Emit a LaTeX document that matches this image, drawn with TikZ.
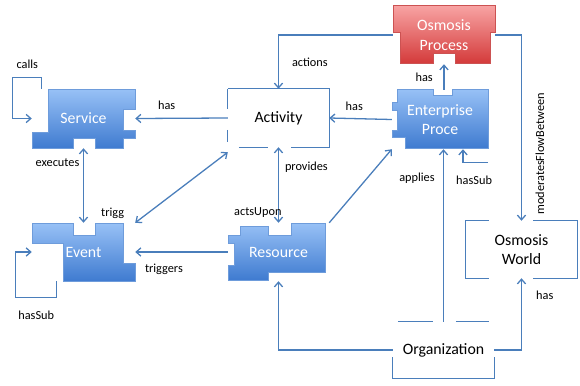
\documentclass[tikz,border=0pt]{standalone}
\usepackage{fontspec}
\setmainfont{Carlito}
\usepackage{tikz}
\usetikzlibrary{arrows.meta, positioning, calc, backgrounds}
\definecolor{linkblue}{HTML}{4A7EBB}
\definecolor{pieceTop}{HTML}{98C1F6}
\definecolor{pieceBot}{HTML}{3F7BD0}
\definecolor{pieceEdge}{HTML}{6E9CDB}
\definecolor{redTop}{HTML}{F8A4A4}
\definecolor{redBot}{HTML}{D43B3B}
\definecolor{redEdge}{HTML}{CC5252}

\begin{document}
\begin{tikzpicture}[x=0.03cm, y=-0.03cm,
    box/.style={inner sep=0pt, align=center, font=\fontsize{13.5}{16.5}\selectfont},
    piece/.style={box, text=white},
    bluepiece/.style={top color=pieceTop, bottom color=pieceBot, draw=pieceEdge, line width=0.4pt},
    redpiece/.style={top color=redTop, bottom color=redBot, draw=redEdge, line width=0.4pt},
    frame/.style={draw=linkblue, line width=1.1pt},
    link/.style={draw=linkblue, line width=1.1pt, -{Straight Barb[length=4pt, width=7pt]}},
    twoway/.style={link, {Straight Barb[length=4pt, width=7pt]}-{Straight Barb[length=4pt, width=7pt]}},
    lbl/.style={font=\fontsize{10.5}{12}\selectfont, text=black, inner sep=2pt}]
\useasboundingbox (0,0) rectangle (580,385);

\node[piece, minimum width=3.09cm, minimum height=1.77cm] (service) at (83.5,118.5) {Service};
\node[box, minimum width=3.03cm, minimum height=1.74cm] (activity) at (278.5,118) {Activity};
\node[piece, minimum width=3.06cm, minimum height=1.74cm] (osmproc) at (444,35) {Osmosis\\Process};
\node[piece, minimum width=2.88cm, minimum height=1.77cm] (enterprise) at (440,119.5) {Enterprise\\Proce};
\node[piece, minimum width=3.09cm, minimum height=1.74cm] (event) at (83.5,252) {Event};
\node[piece, minimum width=3.03cm, minimum height=1.74cm] (resource) at (278.5,252) {Resource};
\node[box, minimum width=3.33cm, minimum height=1.71cm] (world) at (521.5,249.5) {Osmosis\\World};
\node[box, minimum width=3.03cm, minimum height=1.68cm] (org) at (443.5,350) {Organization};

\draw[link] ($(service.north west)+(10,0)$) -- ++(0,-11) -- node[lbl, above=5pt] {calls} ++(-29,0) |- (service.west);
\draw[link] (activity.west) -- node[lbl, above=4.5pt, pos=0.66] {has} (service.east);
\draw[twoway] (event.north) -- node[lbl, left=1pt, pos=0.8] {executes} (service.south);
\draw[twoway] ($(activity.south west)+(0,5)$) -- node[lbl, left=18pt, pos=0.86] {trigg} (event.north east);
\draw[link] (resource.west) -- node[lbl, below=7.5pt, pos=0.69] {triggers} (event.east);
\draw[twoway] (activity.south) -- node[lbl, right=3pt, pos=0.26] {provides} node[lbl, xshift=-0.62cm, pos=0.87] {actsUpon} (resource.north);
\draw[link] (resource.north east) -- (enterprise.south west);
\draw[link] (enterprise.west) -- node[lbl, above=4.5pt, pos=0.6] {has} (activity.east);
\draw[link] (enterprise.north -| osmproc.south) -- node[lbl, left=7pt] {has} (osmproc.south);
\draw[link] (osmproc.west) -| node[lbl, right=9pt, pos=0.75] {actions} (activity.north);
\draw[link] (osmproc.east) -| node[lbl, rotate=90, anchor=north, outer sep=10pt, pos=0.82] {moderatesFlowBetween} (world.north);
\draw[link] ($(enterprise.south east)+(0,13)$) -| node[lbl, below=9.5pt, pos=0.28] {hasSub} ($(enterprise.south)+(23,0)$);
\draw[link] (org.north) -- node[lbl, left=5pt, pos=0.83] {applies} (org.north |- enterprise.south);
\draw[link] (org.west) -| (resource.south);
\draw[link] (org.east) -| node[lbl, right=10pt, pos=0.88] {has} (world.south);
\draw[link] ($(event.south west)+(25,0)$) -- ++(0,16) -- node[lbl, below=9pt] {hasSub} ++(-41,0) |- (event.west);

\begin{scope}[on background layer]
\shadedraw[bluepiece] (48,89) -- (135,89) -- (135,109) -- (123,109) -- (123,130) -- (135,130) -- (135,138) -- (123,138) -- (123,148) -- (95,148) -- (95,138) -- (73,138) -- (73,148) -- (32,148) -- (32,132) -- (48,132) -- cycle;
\shadedraw[bluepiece] (32,223) -- (73,223) -- (73,235) -- (95,235) -- (95,223) -- (123,223) -- (123,263) -- (135,263) -- (135,281) -- (63,281) -- (63,243) -- (32,243) -- cycle;
\shadedraw[bluepiece] (240,226) -- (268,226) -- (268,235) -- (291,235) -- (291,223) -- (325,223) -- (325,272) -- (268,272) -- (268,280) -- (228,280) -- (228,265) -- (234,265) -- (234,243) -- (228,243) -- (228,235) -- (240,235) -- cycle;
\shadedraw[bluepiece] (397,89) -- (433,89) -- (433,95) -- (452,95) -- (452,89) -- (488,89) -- (488,148) -- (405,148) -- (405,137) -- (392,137) -- (392,130) -- (397,130) -- (397,110) -- (392,110) -- (392,102) -- (397,102) -- cycle;
\shadedraw[redpiece] (393,5) -- (495,5) -- (495,32) -- (490,32) -- (490,63) -- (455,63) -- (455,53) -- (433,53) -- (433,63) -- (400,63) -- (400,32) -- (393,32) -- cycle;
\draw[frame] (activity.north west) -- (activity.north east) -- (activity.south east) -- ++(-38,0);
\draw[frame] ($(activity.south west)+(11,0)$) -- ++(29,0);
\draw[frame] (activity.north west) -- ++(0,20);
\draw[frame] ($(activity.north west)+(0,41)$) -- ++(0,12);
\draw[frame] ($(world.north west)+(23,0)$) -- (world.north west) -- (world.south west) -- ++(23,0);
\draw[frame] ($(world.north east)+(-44,0)$) -- (world.north east) -- (world.south east) -- ++(-44,0);
\draw[frame] ($(org.north west)+(5,0)$) -- ++(35,0);
\draw[frame] ($(org.north west)+(63,0)$) -- ++(33,0);
\draw[frame] ($(org.south west)+(0,-21)$) -- (org.south west) -- (org.south east) -- ++(0,-21);
\end{scope}
\end{tikzpicture}
\end{document}
